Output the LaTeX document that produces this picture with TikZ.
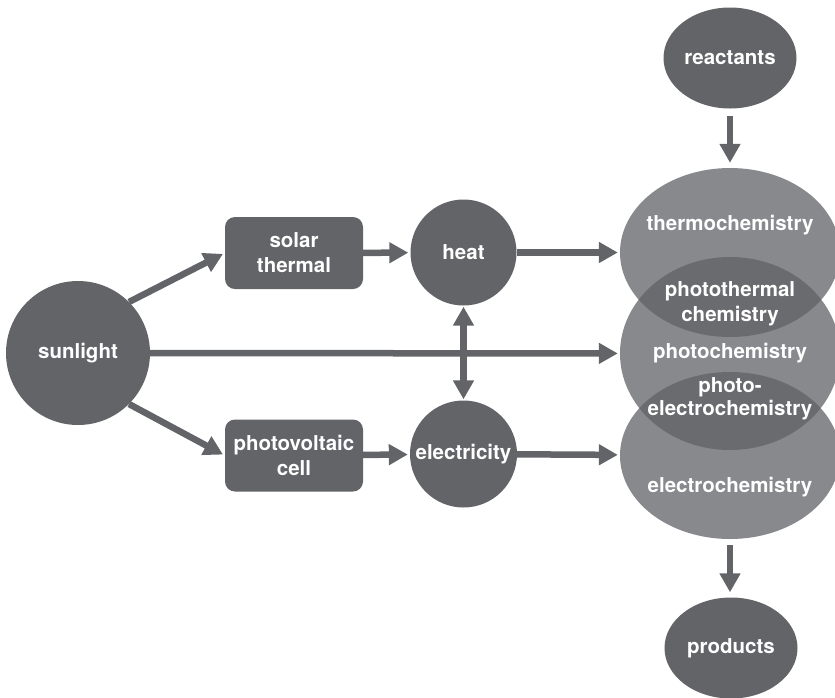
\documentclass[tikz,border=0pt]{standalone}
\usepackage{fontspec}
\setmainfont{TeX Gyre Heros}
\usetikzlibrary{arrows.meta,shapes.geometric}
\definecolor{nodegray}{RGB}{99,100,104}
\definecolor{chemgray}{RGB}{136,137,141}
\definecolor{lensgray}{RGB}{106,107,111}
\begin{document}
\begin{tikzpicture}[x=1pt,y=-1pt,>={Triangle[length=19pt,width=20pt]},
		every node/.style={text=white,font=\fontsize{20.5}{25}\selectfont\bfseries,align=center,inner sep=0pt},
		ball/.style={circle,fill=nodegray},
		box/.style={rectangle,rounded corners=10pt,fill=nodegray,minimum width=138pt,minimum height=72pt},
		egg/.style={ellipse,fill=nodegray,minimum width=133pt,minimum height=101pt},
		chem/.style={ellipse,fill=chemgray,minimum width=220pt},
		flow/.style={->,draw=nodegray,line width=6.5pt,shorten >=2pt}]
	\useasboundingbox (0,0) rectangle (835,697);
	% the three reaction fields
	\node[chem,minimum height=169pt] (thermo) at (730,252.5) {};
	\node[chem,minimum height=193pt] (photo) at (730,353.5) {};
	\node[chem,minimum height=167pt] (electro) at (730,455.5) {};
	\begin{scope}
		\clip (730,252.5) ellipse [x radius=110,y radius=84.5];
		\fill[lensgray] (730,353.5) ellipse [x radius=110,y radius=96.5];
	\end{scope}
	\begin{scope}
		\clip (730,353.5) ellipse [x radius=110,y radius=96.5];
		\fill[lensgray] (730,455.5) ellipse [x radius=110,y radius=83.5];
	\end{scope}
	\node at (730,225) {thermochemistry};
	\node at (730,303.5) {photothermal\\chemistry};
	\node at (730,353) {photochemistry};
	\node at (730,398.5) {photo-\\[-2pt]electrochemistry};
	\node at (730,487) {electrochemistry};
	% sources
	\node[ball,minimum size=144pt] (sunlight) at (78,353) {sunlight};
	\node[box] (solar) at (294,253) {solar\\thermal};
	\node[box] (pv) at (294,455.5) {photovoltaic\\cell};
	\node[ball,minimum size=106pt] (heat) at (463.5,252.5) {heat};
	\node[ball,minimum size=107pt] (elec) at (463.5,454) {electricity};
	\node[egg] (reactants) at (730,58) {reactants};
	\node[egg] (products) at (731,648) {products};
	% arrows
	\draw[flow] (sunlight.45) -- (solar.west);
	\draw[flow] (sunlight.-45) -- (pv.west);
	\draw[flow] (sunlight) -- (photo);
	\draw[flow] (solar) -- (heat);
	\draw[flow] (pv) -- (elec);
	\draw[flow] (heat) -- (thermo);
	\draw[flow] (elec) -- (electro);
	\draw[flow,<->,shorten <=1pt,shorten >=1pt] (heat) -- (elec);
	\draw[flow,shorten <=7pt,shorten >=5pt] (reactants) -- (thermo);
	\draw[flow,shorten <=6pt,shorten >=5pt] (electro.south) -- (electro.south |- products.north);
\end{tikzpicture}
\end{document}
